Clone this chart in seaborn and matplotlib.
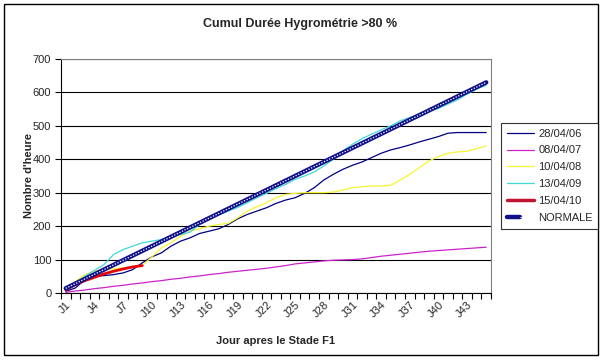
import numpy as np
import pandas as pd
import matplotlib
matplotlib.use("Agg")
import matplotlib.pyplot as plt
import seaborn as sns
from matplotlib.legend_handler import HandlerTuple
from matplotlib.lines import Line2D
from matplotlib.patches import Rectangle

# ---- data ----
days = [f"J{i}" for i in range(1, 46)]
s_280406 = [5, 15, 40, 50, 52, 55, 60, 70, 90, 108, 120, 140, 155, 165, 178, 185, 192, 205, 222, 235,
            245, 255, 268, 278, 285, 298, 315, 338, 355, 370, 382, 392, 405, 418, 428, 435, 443, 452,
            460, 468, 478, 480, 480, 480, 480]
s_080407 = [2, 6, 9, 13, 16, 20, 23, 27, 30, 34, 37, 41, 44, 48, 51, 55, 58, 62, 65, 68,
            71, 74, 78, 82, 87, 90, 93, 96, 98, 99, 100, 102, 106, 110, 113, 116, 119, 122,
            125, 127, 129, 131, 133, 135, 137]
s_100408 = [10, 35, 55, 65, 70, 72, 75, 78, 82, 108, 135, 150, 170, 185, 192, 200, 205, 208, 225, 245,
            258, 270, 285, 295, 298, 300, 300, 300, 302, 308, 315, 318, 320, 320, 322, 338, 355, 375,
            395, 408, 418, 422, 424, 432, 440]
s_130409 = [10, 30, 50, 68, 85, 115, 130, 140, 150, 155, 160, 168, 175, 182, 205, 222, 234, 245, 256, 270,
            285, 298, 312, 325, 340, 350, 362, 380, 400, 425, 445, 462, 475, 488, 500, 515, 525, 535,
            545, 552, 565, 578, 595, 610, 622]
s_150410 = [10, 25, 37, 47, 57, 65, 72, 78, 82]
s_normale = [14, 28, 42, 56, 70, 84, 98, 112, 126, 140, 154, 168, 182, 196, 210, 224, 238, 252, 266, 280,
             294, 308, 322, 336, 350, 364, 378, 392, 406, 420, 434, 448, 462, 476, 490, 504, 518, 532,
             546, 560, 574, 588, 602, 616, 630]
labels = ["28/04/06", "08/04/07", "10/04/08", "13/04/09", "15/04/10", "NORMALE"]
y_ticks = [0, 100, 200, 300, 400, 500, 600, 700]

W, H = 606, 361
sns.set_theme(style="white")
plt.rcParams["font.family"] = ["Liberation Sans", "DejaVu Sans"]

fig = plt.figure(figsize=(W / 100, H / 100), dpi=100)
fig.patch.set_facecolor("white")
ax = fig.add_axes([61 / W, 1 - 293 / H, 430 / W, 234 / H])

x = np.arange(len(days))
thin = [(s_280406, "#000080"), (s_080407, "#CC22CC"), (s_100408, "#F5F530"), (s_130409, "#40D8D8")]
handles = []
for vals, col in thin:
    sns.lineplot(x=x[:len(vals)], y=vals, ax=ax, color=col, lw=0.9, legend=False)
    handles.append(Line2D([], [], color=col, lw=0.9))
sns.lineplot(x=x[:len(s_150410)], y=s_150410, ax=ax, color="#E80000", lw=2.0, legend=False)
handles.append(Line2D([], [], color="#C01530", lw=2.5))
sns.lineplot(x=x, y=s_normale, ax=ax, color="#10108A", lw=3.2, legend=False)
sns.lineplot(x=x, y=s_normale, ax=ax, color="white", lw=0.9, linestyle=(0, (1.0, 1.3)), legend=False)
handles.append((Line2D([], [], color="#10108A", lw=3.2),
                Line2D([], [], color="white", lw=0.9, linestyle=(0, (1.0, 1.3)))))

ax.set_xlim(-0.5, len(days) - 0.5)
ax.set_ylim(0, 700)
ax.set_yticks(y_ticks)
ax.set_yticklabels([str(v) for v in y_ticks], fontsize=8)
ax.set_xticks(x[::3])
ax.set_xticklabels(days[::3], fontsize=8, rotation=45, ha="right", rotation_mode="anchor")
ax.set_xticks(np.arange(-0.5, len(days), 1), minor=True)
ax.tick_params(axis="x", which="major", length=0, pad=5)
ax.tick_params(axis="x", which="minor", length=4, width=0.8, color="black", direction="out", bottom=True)
ax.tick_params(axis="y", which="major", length=4, width=0.8, color="black", direction="out", left=True, pad=3)
ax.set_xlabel("")
ax.set_ylabel("")
ax.yaxis.grid(True, color="black", lw=0.8)
ax.xaxis.grid(False)
ax.set_axisbelow(True)
for side in ["left", "bottom"]:
    ax.spines[side].set_color("black")
    ax.spines[side].set_linewidth(0.8)
for side in ["top", "right"]:
    ax.spines[side].set_color("#808080")
    ax.spines[side].set_linewidth(0.8)

fig.text(300 / W, 1 - 24 / H, "Cumul Durée Hygrométrie >80 %", ha="center", va="center",
         fontsize=9, fontweight="bold")
fig.text(275 / W, 1 - 341 / H, "Jour apres le Stade F1", ha="center", va="center",
         fontsize=8, fontweight="bold")
fig.text(29 / W, 1 - 176 / H, "Nombre d'heure", ha="center", va="center", rotation=90,
         fontsize=8, fontweight="bold")

leg = fig.legend(handles, labels, loc="upper left", bbox_to_anchor=(501 / W, 1 - 123 / H),
                 frameon=True, fancybox=False, edgecolor="black", fontsize=8,
                 handlelength=2.5, handletextpad=0.35, labelspacing=0.62, borderpad=0.5,
                 borderaxespad=0, handler_map={tuple: HandlerTuple(ndivide=None, pad=0)})
leg.get_frame().set_linewidth(0.8)
leg.get_frame().set_facecolor("white")

fig.patches.append(Rectangle((4 / W, 1 - 355 / H), 594 / W, 351 / H, transform=fig.transFigure,
                             fill=False, ec="black", lw=1))

fig.savefig("out.png", dpi=100, facecolor="white")
